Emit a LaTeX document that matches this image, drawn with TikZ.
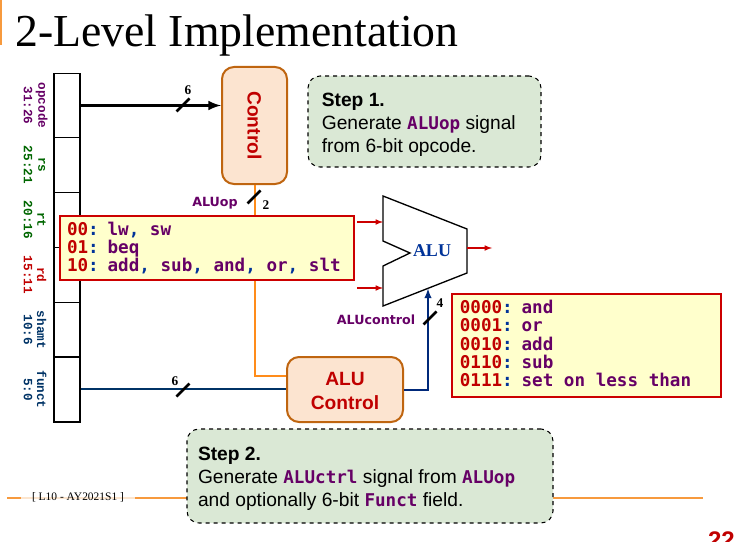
\documentclass[tikz,border=0pt]{standalone}
\usepackage{fontspec}
\usepackage{tikz}
\setmainfont{Liberation Serif}
\setsansfont{Liberation Sans}
\setmonofont{DejaVu Sans Mono}
\newfontfamily\fieldfont{Liberation Mono}
\newfontfamily\signalfont{DejaVu Sans}

\definecolor{dkred}{HTML}{C00000}
\definecolor{dkpurple}{HTML}{660066}
\definecolor{dkgreen}{HTML}{006600}
\definecolor{dknavy}{HTML}{003366}
\definecolor{alublue}{HTML}{003399}
\definecolor{wire}{HTML}{FF8C1A}
\definecolor{rim}{HTML}{BF6510}
\definecolor{peach}{HTML}{FCE4D0}
\definecolor{stepgreen}{HTML}{DAE8D5}
\definecolor{noteyellow}{HTML}{FFFFCC}
\definecolor{slidebar}{HTML}{F79A3E}

\newcommand{\bitval}[1]{\textcolor{dkred}{#1}\textcolor{alublue}{:}}
\newcommand{\opname}[1]{\textcolor{dkpurple}{#1}}
\newcommand{\cma}{\textcolor{alublue}{,}}
\newcommand{\sigword}[1]{\textbf{\ttfamily\fontsize{13.2}{17.25}\selectfont\opname{#1}}}
\newcommand{\notespace}{\spaceskip=7.95pt\relax}
\newcommand{\stepspace}{\spaceskip=.278em\relax}

\begin{document}
\begin{tikzpicture}[x=0.75pt,y=-0.75pt,node distance={41.25pt}]
	\tikzstyle{cell}=[draw=black, line width=1.4pt, minimum width=19.5pt, minimum height=41.25pt, inner sep=0pt]
	\tikzstyle{tag}=[rotate=-90, inner sep=0pt, font=\fieldfont\bfseries\fontsize{9.5}{10}\selectfont]
	\tikzstyle{unit}=[draw=rim, line width=1.5pt, fill=peach, rounded corners=9pt, inner sep=0pt, text=dkred, align=center, font=\sffamily\bfseries\fontsize{14.4}{18}\selectfont]
	\tikzstyle{note}=[draw=red!80!black, line width=1.1pt, fill=noteyellow, inner sep=0pt, align=left, font=\ttfamily\bfseries\fontsize{13.2}{13.8}\selectfont]
	\tikzstyle{stepbox}=[draw=black, dashed, line width=0.8pt, fill=stepgreen, rounded corners=9pt, align=left, font=\sffamily\fontsize{14.4}{17.25}\selectfont]
	\tikzstyle{signal}=[inner sep=0pt, text=dkpurple, font=\signalfont\bfseries\fontsize{9.5}{10}\selectfont]
	\tikzstyle{width}=[inner sep=0pt, font=\bfseries\fontsize{10}{10}\selectfont]
	\tikzstyle{slash}=[line width=1.9pt]
	\tikzstyle{redwire}=[draw=red!80!black, line width=0.9pt, -latex]

	\useasboundingbox (0,0) rectangle (750,542);

	% title and slide furniture
	\fill[slidebar] (0,0) rectangle (2,45);
	\node[inner sep=0pt, anchor=base west, font=\fontsize{34.3}{36}\selectfont] (title) at (15,47) {2-Level Implementation};
	\coordinate (barl) at (7,498);
	\coordinate (barm) at (187,498);
	\coordinate (barn) at (553,498);
	\coordinate (barr) at (703,498);
	\draw[slidebar, line width=1.2pt] (barl) -- (barm);
	\draw[slidebar, line width=1.2pt] (barn) -- (barr);
	\node[fill=white, fill opacity=0.75, text opacity=1, minimum width=86pt, minimum height=6pt, inner sep=0pt, font=\fontsize{8.6}{10}\selectfont] (lecture) at (78,497.5) {[ L10 - AY2021S1 ]};
	\node[inner sep=0pt, anchor=base east, text=dkred, font=\sffamily\bfseries\fontsize{18}{20}\selectfont] (page) at (735,548) {22};

	% instruction fields
	\node[cell, minimum height=48pt] (f1) at (67,105.5) {};
	\node[cell] (f2) [below of=f1, node distance=44.6pt] {};
	\node[cell] (f3) [below of=f2] {};
	\node[cell] (f4) [below of=f3] {};
	\node[cell] (f5) [below of=f4] {};
	\node[cell, minimum height=48.75pt] (f6) [below of=f5, node distance=44.6pt] {};

	\foreach \cell/\field/\bits/\col in {f1/opcode/31:26/dkpurple,f2/rs/25:21/dkgreen,f3/rt/20:16/dkgreen,f4/rd/15:11/dkred,f5/shamt/10:6/dknavy,f6/funct/5:0/dknavy}{
		\node[tag, text=\col] (\cell name) at ([xshift=-19pt]\cell.center) {\field};
		\node[tag, text=\col] (\cell bits) at ([xshift=-29.3pt]\cell.center) {\bits};
	}

	% units
	\node[unit, minimum width=48.75pt, minimum height=87.75pt] (control) at (254.5,125.5) {\rotatebox{-90}{Control}};
	\node[unit, minimum width=87pt, minimum height=48.75pt] (aluctl) at (345,389.5) {\rule{0pt}{12pt}ALU\\Control};

	% ALU
	\draw[black, line width=1pt, fill=white] (383,196) -- (467,229) -- (467,273) -- (383,306) -- (383,266) -- (410,253) -- (383,241) -- cycle;
	\node[inner sep=0pt, text=alublue, font=\bfseries\fontsize{13.5}{14}\selectfont] (alu) at (432,251) {ALU};
	\coordinate (ina) at (357,222);
	\coordinate (inat) at (383,222);
	\coordinate (inb) at (357,288);
	\coordinate (inbt) at (383,288);
	\coordinate (res) at (467,248);
	\coordinate (rest) at (492,248);
	\coordinate (aluctlin) at (428,288.5);

	\foreach \from/\to in {ina/inat,inb/inbt,res/rest}
	\draw[redwire] (\from) -- (\to);

	% wires
	\draw[wire, line width=1.5pt] (control.south) |- ([yshift=10pt]aluctl.west);
	\draw[black, line width=2.2pt, -latex] (f1.east) -- (f1.east -| control.west);
	\draw[dknavy, line width=1.5pt] (f6.east) -- (f6.east -| aluctl.west);
	\draw[alublue!80!black, line width=1.5pt, -latex] (aluctl.east) -| (aluctlin);

	\foreach \x/\y in {183/105,254/197,183/390,430/318}
	\draw[slash] (\x-6.5,\y+6.5) -- (\x+6.5,\y-6.5);

	% wire labels
	\node[width] (w1) at (188,90) {6};
	\node[width] (w2) at (266,205) {2};
	\node[width] (w3) at (175,381) {6};
	\node[width] (w4) at (440,303) {4};
	\node[signal] (sigop) at (215,203) {ALUop};
	\node[signal] (sigctl) at (376,320) {ALUcontrol};

	% notes
	\node[note, minimum width=220.5pt, minimum height=48pt, text width=210pt] (opnote) at (207,248) {\notespace\bitval{00} \opname{lw}\cma{} \opname{sw}\\\bitval{01} \opname{beq}\\\bitval{10} \opname{add}\cma{} \opname{sub}\cma{} \opname{and}\cma{} \opname{or}\cma{} \opname{slt}};
	\node[note, minimum width=201.75pt, minimum height=77.25pt, text width=190pt] (ctlnote) at (586.5,345.5) {\notespace\bitval{0000} \opname{and}\\\bitval{0001} \opname{or}\\\bitval{0010} \opname{add}\\\bitval{0110} \opname{sub}\\\bitval{0111} \opname{set on less than}\rule[-3pt]{0pt}{0pt}};

	\node[stepbox, minimum width=174.75pt, minimum height=68.25pt, text width=154pt] (step1) at (424.5,121.5) {\stepspace\rule{0pt}{14.7pt}\textbf{Step 1.}\\Generate \sigword{ALUop} signal\\from 6-bit opcode.};
	\node[stepbox, minimum width=274.5pt, minimum height=70.5pt, text width=258pt] (step2) at (370,476) {\stepspace\rule{0pt}{14.7pt}\textbf{Step 2.}\\Generate \sigword{ALUctrl} signal from \sigword{ALUop}\\and optionally 6-bit \sigword{Funct} field.};
\end{tikzpicture}
\end{document}
